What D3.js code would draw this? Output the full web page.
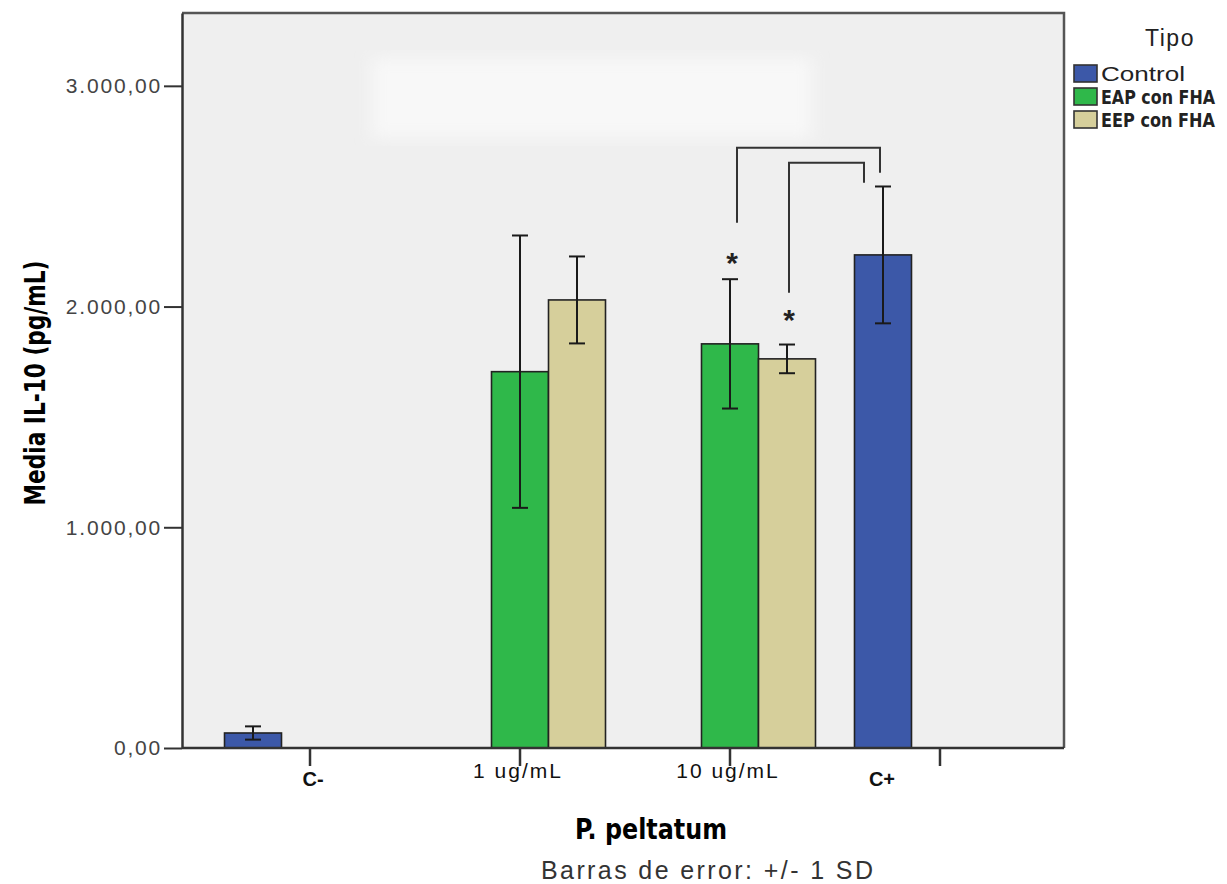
<!DOCTYPE html>
<html>
<head>
<meta charset="utf-8">
<script src="https://cdn.jsdelivr.net/npm/d3@7"></script>
<style>
  body { margin: 0; background: #fff; }
  text { font-family: "Liberation Sans", Arial, sans-serif; }
  .narrow { font-family: "Liberation Sans Narrow", "DejaVu Sans Condensed", "Liberation Sans", sans-serif; }
</style>
</head>
<body>
<div id="chart"></div>
<script>
// Data
const categories = ["C-", "1 ug/mL", "10 ug/mL", "C+"];
const series = ["Control", "EAP con FHA", "EEP con FHA"];
const controlMean = [68, null, null, 2234];
const controlSD = [30, null, null, 310];
const eapMean = [null, 1705, 1831, null];
const eapSD = [null, 617, 293, null];
const eepMean = [null, 2030, 1763, null];
const eepSD = [null, 197, 65, null];
const yTicks = [0, 1000, 2000, 3000];
// significance stars (height of the star in data units), by series for "10 ug/mL"
const starSeries = ["EAP con FHA", "EEP con FHA"];
const starValue = [2150, 1895];
// brackets: from a 10 ug/mL bar to the C+ control bar
const bracketFrom = ["EAP con FHA", "EEP con FHA"];
const bracketFromY = [2380, 2063];
const bracketTopY = [2719, 2652];
const bracketToY = [2606, 2561];

const colors = ["#3c58a8", "#2fb84a", "#d6cf9b"];

const W = 1227, H = 884;
const margin = { top: 13, right: 163, bottom: 136, left: 182 };
const plotW = W - margin.left - margin.right,
      plotH = H - margin.top - margin.bottom;

const svg = d3.select("#chart").append("svg")
    .attr("width", W).attr("height", H);

const defs = svg.append("defs");
defs.append("filter").attr("id", "blur")
    .append("feGaussianBlur").attr("stdDeviation", 8);

const g = svg.append("g").attr("transform", `translate(${margin.left},${margin.top})`);

// Scales
const x0 = d3.scaleBand().domain(categories)
    .range([23, 863]).paddingInner(0.1857).paddingOuter(0.0929);
const x1 = d3.scaleBand().domain(series).range([0, x0.bandwidth()]);
const y = d3.scaleLinear().domain([0, 3330]).range([plotH, 0]);
const color = d3.scaleOrdinal().domain(series).range(colors);

// plot background
g.append("rect").attr("width", plotW).attr("height", plotH).attr("fill", "#efefef");
g.append("rect").attr("x", 190).attr("y", 45).attr("width", 440).attr("height", 80)
    .attr("fill", "#f8f8f8").attr("filter", "url(#blur)");

// frame top and right
g.append("path").attr("d", `M0,0H${plotW}V${plotH}`)
    .attr("fill", "none").attr("stroke", "#555").attr("stroke-width", 2.5);

// rows of bar data
const means = [controlMean, eapMean, eepMean];
const sds = [controlSD, eapSD, eepSD];
const rows = [];
series.forEach((s, si) => {
  categories.forEach((c, ci) => {
    if (means[si][ci] != null) rows.push({ cat: c, series: s, mean: means[si][ci], sd: sds[si][ci] });
  });
});
const cx = (c, s) => x0(c) + x1(s) + x1.bandwidth() / 2;

// Bars
g.selectAll("rect.bar").data(rows).enter().append("rect")
    .attr("class", "bar")
    .attr("x", d => x0(d.cat) + x1(d.series))
    .attr("y", d => y(d.mean))
    .attr("width", x1.bandwidth())
    .attr("height", d => y(0) - y(d.mean))
    .attr("fill", d => color(d.series))
    .attr("stroke", "#222").attr("stroke-width", 1.6);

// Error bars
const eb = g.selectAll("g.err").data(rows).enter().append("g")
    .attr("stroke", "#1a1a1a").attr("stroke-width", 2);
eb.append("line").attr("x1", d => cx(d.cat, d.series)).attr("x2", d => cx(d.cat, d.series))
    .attr("y1", d => y(d.mean + d.sd)).attr("y2", d => y(d.mean - d.sd));
eb.append("line").attr("x1", d => cx(d.cat, d.series) - 8).attr("x2", d => cx(d.cat, d.series) + 8)
    .attr("y1", d => y(d.mean + d.sd)).attr("y2", d => y(d.mean + d.sd));
eb.append("line").attr("x1", d => cx(d.cat, d.series) - 8).attr("x2", d => cx(d.cat, d.series) + 8)
    .attr("y1", d => y(d.mean - d.sd)).attr("y2", d => y(d.mean - d.sd));

// Brackets
const bracketShift = [[7, -3], [2, -19]];
bracketFrom.forEach((s, i) => {
  const xa = cx("10 ug/mL", s) + bracketShift[i][0];
  const xb = cx("C+", "Control") + bracketShift[i][1];
  g.append("path")
    .attr("d", `M${xa},${y(bracketFromY[i])}V${y(bracketTopY[i])}H${xb}V${y(bracketToY[i])}`)
    .attr("fill", "none").attr("stroke", "#333").attr("stroke-width", 2);
});

// Stars
starSeries.forEach((s, i) => {
  g.append("text").attr("x", cx("10 ug/mL", s) + 2).attr("y", y(starValue[i]))
    .attr("text-anchor", "middle").attr("font-size", 30).attr("font-weight", "bold")
    .attr("fill", "#222").text("*");
});

// Y axis
const locale = d3.formatLocale({ decimal: ",", thousands: ".", grouping: [3], currency: ["", ""] });
const yAxis = g.append("g")
    .call(d3.axisLeft(y).tickValues(yTicks).tickSize(18).tickSizeOuter(0).tickPadding(2)
      .tickFormat(locale.format(",.2f")));
yAxis.select(".domain").attr("stroke", "#333").attr("stroke-width", 2.5);
yAxis.selectAll(".tick line").attr("stroke", "#333").attr("stroke-width", 2);
yAxis.selectAll(".tick text").attr("font-size", 21).attr("fill", "#444")
    .attr("letter-spacing", 1.8).attr("font-family", "Liberation Sans, Arial, sans-serif");

// X axis
const xAxis = g.append("g").attr("transform", `translate(0,${plotH})`)
    .call(d3.axisBottom(x0).tickSize(18).tickSizeOuter(0).tickFormat(""));
xAxis.select(".domain").attr("d", `M0,0H${plotW}`).attr("stroke", "#333").attr("stroke-width", 2.5);
xAxis.selectAll(".tick line").attr("stroke", "#333").attr("stroke-width", 2.5);

// x tick labels (C+ label sits under its bar, as in the original)
const labelShift = [3, -2, -2, -58];
const labelBold = [true, false, false, true];
const labelDy = [38, 30, 30, 38];
categories.forEach((c, i) => {
  g.append("text")
    .attr("x", x0(c) + x0.bandwidth() / 2 + labelShift[i])
    .attr("y", plotH + labelDy[i])
    .attr("text-anchor", "middle")
    .attr("font-size", labelBold[i] ? 20 : 21)
    .attr("font-weight", labelBold[i] ? "bold" : "normal")
    .attr("letter-spacing", labelBold[i] ? 0 : 2)
    .attr("fill", "#111")
    .text(c);
});

// Axis titles
svg.append("text").attr("class", "narrow")
    .attr("transform", `translate(45,383) rotate(-90)`)
    .attr("text-anchor", "middle").attr("font-size", 29).attr("font-weight", "bold")
    .attr("textLength", 245).attr("lengthAdjust", "spacingAndGlyphs")
    .text("Media IL-10 (pg/mL)");

svg.append("text").attr("class", "narrow")
    .attr("x", 651).attr("y", 839)
    .attr("text-anchor", "middle").attr("font-size", 29).attr("font-weight", "bold")
    .attr("textLength", 152).attr("lengthAdjust", "spacingAndGlyphs")
    .text("P. peltatum");

svg.append("text")
    .attr("x", 707).attr("y", 879)
    .attr("text-anchor", "middle").attr("font-size", 25).attr("fill", "#333")
    .attr("textLength", 332).attr("lengthAdjust", "spacing")
    .text("Barras de error: +/- 1 SD");

// Legend
const legend = svg.append("g");
legend.append("text").attr("x", 1170).attr("y", 46).attr("text-anchor", "middle")
    .attr("font-size", 23).attr("fill", "#222").attr("letter-spacing", 1.5).text("Tipo");
const legendLen = [84, 114, 114];
series.forEach((s, i) => {
  legend.append("rect").attr("x", 1074).attr("y", 65 + i * 23).attr("width", 23).attr("height", 17)
    .attr("fill", color(s)).attr("stroke", "#333").attr("stroke-width", 1.6);
  legend.append("text").attr("class", i ? "narrow" : null)
    .attr("x", 1101).attr("y", 81 + i * 23)
    .attr("font-size", i ? 19 : 20).attr("font-weight", i ? "bold" : "normal").attr("fill", "#222")
    .attr("textLength", legendLen[i]).attr("lengthAdjust", "spacingAndGlyphs")
    .text(s);
});
</script>
</body>
</html>
